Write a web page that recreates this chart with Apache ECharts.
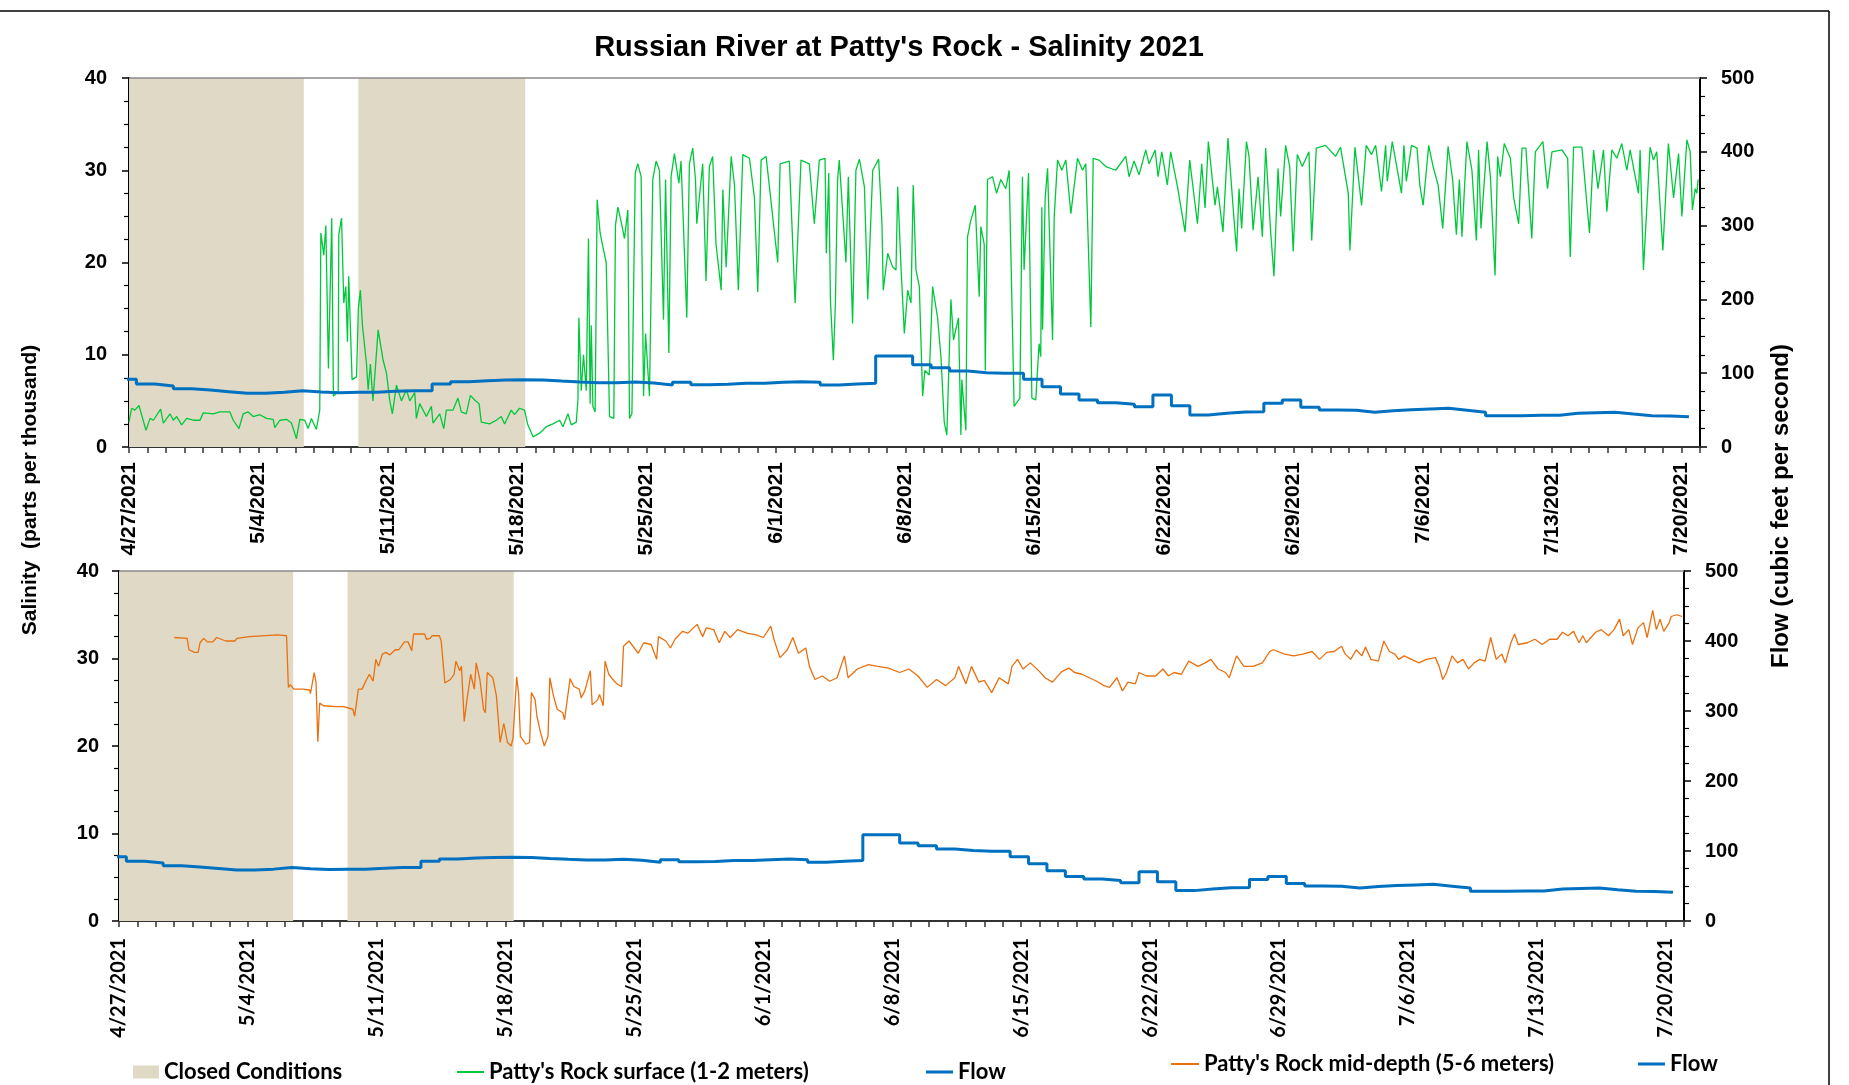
<!DOCTYPE html>
<html>
<head>
<meta charset="utf-8">
<script src="https://cdn.jsdelivr.net/npm/echarts/dist/echarts.min.js"></script>
<style>
  html, body { margin: 0; padding: 0; background: #fff; }
  #main { width: 1849px; height: 1085px; }
</style>
</head>
<body>
<div id="main"></div>
<script>
// x values are days after 4/27/2021 00:00
var xLabels = ['4/27/2021', '5/4/2021', '5/11/2021', '5/18/2021', '5/25/2021', '6/1/2021', '6/8/2021',
  '6/15/2021', '6/22/2021', '6/29/2021', '7/6/2021', '7/13/2021', '7/20/2021'];

// closed-mouth periods [start day, end day]
var closedPeriods = [[0, 9.46], [12.41, 21.44]];

// daily mean flow (cfs), one value per day, steps at ~10am
var flowStepAt = 0.4;
var flowDaily = [
  91.7, 85.4, 82.7, 79.0, 77.2, 75.0, 72.7, 72.7, 74.1, 76.3,
  74.5, 73.6, 74.1, 74.1, 75.4, 76.3, 76.3, 85.4, 88.5, 89.9,
  90.8, 91.2, 90.8, 89.4, 88.1, 87.2, 87.2, 88.1, 86.7, 84.0,
  87.6, 84.5, 84.9, 86.3, 86.3, 87.6, 88.5, 87.6, 84.0, 85.4,
  86.3, 123.3, 123.3, 111.6, 107.5, 103.0, 100.7, 99.8, 99.8, 91.7,
  81.8, 71.8, 63.7, 60.1, 57.8, 54.7, 70.5, 56.0, 43.4, 45.6,
  47.4, 47.9, 59.2, 63.7, 53.7, 50.1, 49.7, 47.0, 49.2, 50.6,
  51.5, 52.4, 49.7, 47.0, 42.5, 42.5, 42.9, 42.9, 45.6, 46.5,
  47.0, 44.7, 42.5, 42.0, 41.1
];

// surface salinity (ppt), [day, value]
var surface = [
  [0,2.7],[0.14,4.2],[0.32,4.0],[0.54,4.5],[0.92,1.8],[1.14,3.1],[1.32,2.9],[1.71,4.1],[1.86,2.6],[2.22,3.6],
  [2.4,2.9],[2.58,3.3],[2.85,2.4],[3.12,3.1],[3.48,2.9],[3.84,2.9],[4.02,3.7],[4.56,3.6],[4.92,3.8],[5.46,3.8],
  [5.64,2.9],[5.95,2.0],[6.18,3.6],[6.45,3.8],[6.72,3.3],[7.08,3.5],[7.44,3.1],[7.8,3.0],[7.89,2.1],[8.16,2.9],
  [8.52,3.0],[8.79,2.6],[9.06,0.9],[9.24,3.0],[9.51,2.9],[9.69,2.0],[9.87,3.1],[10.14,1.9],[10.32,4.0],[10.38,23.2],
  [10.54,20.8],[10.65,24.0],[10.79,8.5],[10.97,24.8],[11.06,5.5],[11.32,6.0],[11.35,23.0],[11.5,24.8],[11.62,15.6],[11.73,17.4],
  [11.82,11.4],[11.89,18.5],[12.07,7.3],[12.31,7.6],[12.41,15.0],[12.52,17.0],[12.63,13.2],[12.85,9.0],[12.94,6.2],[13.06,9.0],
  [13.2,5.0],[13.48,12.7],[13.75,9.4],[13.93,8.0],[14.11,5.0],[14.25,3.6],[14.47,6.7],[14.74,5.0],[15.01,6.2],[15.19,5.0],
  [15.46,5.9],[15.55,3.1],[15.73,4.7],[16.09,3.3],[16.36,4.4],[16.45,2.6],[16.81,3.6],[17.03,2.0],[17.17,4.0],[17.53,4.0],
  [17.8,5.3],[17.98,3.8],[18.25,3.6],[18.47,5.6],[18.7,5.1],[18.94,4.7],[19.06,2.7],[19.51,2.5],[19.87,2.9],[20.14,3.3],
  [20.32,2.5],[20.68,4.0],[20.86,3.5],[21.13,4.2],[21.4,4.0],[21.58,2.4],[21.86,1.1],[22.22,1.5],[22.58,2.2],[22.94,2.5],
  [23.3,2.9],[23.48,2.2],[23.75,3.6],[23.93,2.4],[24.2,2.7],[24.29,5.1],[24.34,14.0],[24.47,6.1],[24.59,10.0],[24.74,6.1],
  [24.86,22.6],[24.95,4.7],[25.01,13.2],[25.1,4.4],[25.22,3.8],[25.33,26.8],[25.49,23.2],[25.64,21.7],[25.82,20.0],[26.0,3.3],
  [26.23,3.1],[26.32,24.0],[26.45,26.0],[26.63,24.4],[26.81,22.6],[26.99,25.7],[27.08,3.1],[27.21,3.6],[27.39,29.7],[27.53,30.7],
  [27.71,29.3],[27.84,5.5],[27.95,12.3],[28.16,5.5],[28.34,29.0],[28.52,31.0],[28.7,30.0],[28.92,13.8],[29.03,29.0],[29.21,10.2],
  [29.33,29.3],[29.51,31.8],[29.75,28.6],[29.87,31.0],[30.18,14.0],[30.32,30.7],[30.5,32.4],[30.65,29.0],[30.72,24.2],[31.04,30.7],
  [31.22,18.0],[31.4,30.4],[31.58,31.5],[31.76,22.0],[32.04,17.0],[32.13,27.9],[32.31,19.5],[32.58,31.5],[32.76,28.4],[32.97,17.0],
  [33.21,31.7],[33.57,31.3],[33.84,27.0],[34.02,16.8],[34.2,31.1],[34.47,31.5],[35.1,20.0],[35.23,30.7],[35.73,31.0],[36.04,15.6],
  [36.36,31.1],[36.81,30.7],[37.08,24.2],[37.35,31.1],[37.66,31.3],[37.73,21.0],[37.86,29.7],[37.95,16.0],[38.11,9.4],[38.22,15.6],
  [38.34,29.0],[38.43,31.1],[38.79,20.0],[38.92,29.3],[39.15,13.4],[39.33,30.0],[39.52,31.2],[39.79,28.2],[39.97,16.0],[40.24,30.0],
  [40.56,31.2],[40.74,24.2],[40.81,17.0],[41.05,21.0],[41.32,19.5],[41.5,19.2],[41.59,28.2],[41.77,19.5],[41.95,12.3],[42.13,17.0],
  [42.31,15.6],[42.43,28.4],[42.58,19.2],[42.76,17.4],[42.94,5.5],[43.06,8.3],[43.3,7.8],[43.48,17.4],[43.75,14.0],[43.93,9.8],
  [44.11,2.7],[44.25,1.3],[44.47,16.0],[44.61,11.6],[44.88,14.0],[45.01,1.3],[45.06,7.3],[45.28,1.8],[45.37,22.8],[45.55,24.6],
  [45.79,26.2],[46.0,16.3],[46.09,23.9],[46.27,22.0],[46.33,8.3],[46.45,29.0],[46.72,29.3],[46.94,27.5],[47.17,29.0],[47.44,28.0],
  [47.62,30.0],[47.89,4.4],[48.2,5.3],[48.34,29.3],[48.43,19.2],[48.67,29.7],[48.85,5.3],[49.06,5.1],[49.24,11.2],[49.33,9.8],
  [49.39,26.0],[49.43,12.7],[49.57,27.0],[49.7,30.2],[49.97,11.6],[50.06,25.0],[50.24,31.1],[50.47,30.0],[50.69,31.1],[50.96,25.3],
  [51.32,31.3],[51.59,30.0],[51.77,30.7],[52.04,13.0],[52.17,31.3],[52.49,31.1],[52.85,30.4],[53.39,30.0],[53.93,31.5],[54.11,29.3],
  [54.38,31.0],[54.65,29.5],[55.01,32.2],[55.19,30.7],[55.52,32.2],[55.68,29.3],[55.88,32.0],[56.18,28.4],[56.36,32.0],[56.73,28.2],
  [57.14,23.3],[57.39,31.1],[57.81,24.2],[58.04,30.7],[58.22,25.9],[58.4,33.1],[58.76,26.2],[58.89,28.2],[59.19,23.3],[59.46,33.5],
  [59.79,24.6],[59.93,21.2],[60.06,28.0],[60.2,23.7],[60.46,33.1],[60.6,31.5],[60.82,23.5],[61.09,29.3],[61.32,22.8],[61.5,32.4],
  [61.77,23.3],[61.95,18.5],[62.17,30.2],[62.31,25.0],[62.58,32.7],[62.8,30.4],[62.99,21.2],[63.21,31.7],[63.48,30.4],[63.84,32.0],
  [63.99,22.4],[64.24,32.4],[64.74,32.7],[65.28,31.5],[65.55,32.5],[65.97,27.5],[66.06,21.3],[66.33,32.5],[66.69,26.2],[66.94,32.7],
  [67.23,31.7],[67.45,32.7],[67.77,27.7],[67.99,32.7],[68.08,28.8],[68.35,33.1],[68.85,27.5],[68.98,32.7],[69.11,28.8],[69.39,32.7],
  [69.69,32.4],[69.84,28.4],[70.02,26.2],[70.32,32.7],[70.56,30.4],[70.83,28.4],[71.08,23.7],[71.37,32.6],[71.62,28.9],[71.82,23.0],
  [71.98,29.0],[72.12,22.8],[72.39,33.1],[72.66,30.0],[72.9,22.4],[73.02,32.2],[73.15,23.7],[73.48,33.1],[73.66,29.3],[73.91,18.6],
  [74.05,31.5],[74.2,29.3],[74.41,32.9],[74.74,31.3],[74.92,27.0],[75.19,24.2],[75.37,32.4],[75.58,32.4],[75.9,22.6],[76.09,32.0],
  [76.5,33.1],[76.75,28.0],[76.99,32.0],[77.53,32.2],[77.84,31.3],[77.98,20.6],[78.16,32.5],[78.61,32.5],[79.02,23.2],[79.24,32.2],
  [79.48,28.0],[79.78,32.2],[79.96,25.5],[80.23,32.2],[80.5,31.3],[80.77,32.9],[81.04,30.0],[81.22,32.2],[81.67,27.5],[81.76,32.2],
  [81.94,19.2],[82.3,32.5],[82.48,31.1],[82.66,32.0],[82.99,21.3],[83.29,32.9],[83.57,27.0],[83.84,31.8],[84.02,25.0],[84.29,33.3],
  [84.47,32.0],[84.59,25.7],[84.74,28.0],[84.83,27.5],[84.9,29.0]
];

// mid-depth salinity (ppt), [day, value]
var midDepth = [
  [3.0,32.4],[3.7,32.3],[3.8,31.0],[4.1,30.7],[4.3,30.7],[4.4,31.8],[4.6,32.3],[4.8,31.9],[5.1,31.9],[5.3,32.4],
  [5.8,32.0],[6.3,32.0],[6.4,32.3],[7.1,32.5],[8.6,32.7],[9.1,32.6],[9.2,26.7],[9.3,27.0],[9.5,26.5],[10.0,26.5],
  [10.35,26.4],[10.4,26.0],[10.6,28.4],[10.7,27.3],[10.8,20.5],[10.9,24.9],[11.1,24.6],[11.8,24.5],[12.2,24.5],[12.7,24.2],
  [12.8,23.4],[13.0,26.5],[13.2,26.5],[13.4,27.4],[13.6,28.2],[13.8,27.4],[13.95,29.9],[14.1,29.1],[14.3,30.5],[14.5,30.7],
  [14.7,30.4],[15.0,31.0],[15.2,31.0],[15.5,31.9],[15.7,31.9],[15.9,30.9],[16.0,32.8],[16.6,32.8],[16.7,32.2],[16.9,32.3],
  [17.0,32.6],[17.4,32.6],[17.5,32.0],[17.7,27.2],[18.0,27.6],[18.2,28.2],[18.3,29.7],[18.5,28.6],[18.6,29.1],[18.75,22.8],
  [18.9,25.3],[19.1,28.2],[19.3,26.5],[19.4,29.5],[19.6,27.6],[19.8,24.2],[19.9,23.8],[20.0,28.4],[20.3,27.8],[20.4,26.8],
  [20.5,25.7],[20.7,20.4],[20.9,22.6],[21.1,20.4],[21.3,20.0],[21.4,20.9],[21.6,27.9],[21.7,26.1],[21.8,21.1],[22.1,20.2],
  [22.3,20.4],[22.4,26.1],[22.6,25.3],[22.7,23.4],[22.9,21.5],[23.1,20.0],[23.3,21.1],[23.4,27.8],[23.6,25.7],[23.8,24.2],
  [24.1,23.8],[24.2,23.0],[24.5,27.7],[24.7,26.8],[25.0,26.5],[25.1,25.5],[25.3,26.3],[25.6,28.6],[25.7,24.7],[26.0,25.3],
  [26.1,25.9],[26.3,24.6],[26.4,29.7],[26.6,28.2],[26.9,27.4],[27.1,27.0],[27.3,26.8],[27.4,31.4],[27.7,32.0],[28.2,30.6],
  [28.5,31.8],[28.9,31.6],[29.2,29.9],[29.3,32.5],[29.7,32.0],[29.95,31.2],[30.2,32.2],[30.6,33.1],[30.9,32.9],[31.4,33.9],
  [31.7,32.5],[31.9,33.5],[32.3,33.3],[32.6,31.8],[32.9,33.1],[33.2,32.4],[33.6,33.3],[34.1,32.9],[34.6,32.7],[35.0,32.4],
  [35.4,33.7],[35.6,32.0],[35.9,30.1],[36.3,31.0],[36.6,32.4],[36.9,30.6],[37.3,31.2],[37.5,29.1],[37.8,27.6],[38.2,28.0],
  [38.6,27.4],[39.0,27.8],[39.4,30.3],[39.6,27.8],[40.1,28.8],[40.7,29.3],[41.2,29.1],[41.8,28.9],[42.4,28.4],[42.9,28.8],
  [43.4,28.0],[43.9,26.7],[44.4,27.6],[44.9,26.9],[45.4,27.8],[45.6,29.1],[46.0,27.1],[46.3,29.1],[46.7,27.3],[47.0,27.5],
  [47.4,26.1],[47.8,27.8],[48.3,27.1],[48.5,29.1],[48.8,29.9],[49.1,28.8],[49.5,29.5],[50.0,28.5],[50.3,27.8],[50.7,27.3],
  [51.2,28.5],[51.6,28.9],[51.9,28.4],[52.3,28.2],[52.7,27.8],[53.1,27.4],[53.5,26.9],[53.8,26.7],[54.2,27.8],[54.5,26.3],
  [54.8,27.3],[55.2,27.1],[55.4,28.4],[55.8,28.0],[56.3,28.0],[56.7,28.8],[57.0,28.0],[57.3,28.4],[57.7,28.2],[58.1,29.7],
  [58.6,29.1],[59.0,29.5],[59.3,29.9],[59.7,28.8],[60.1,28.4],[60.3,27.8],[60.7,30.3],[61.1,29.1],[61.6,29.1],[62.1,29.5],
  [62.5,30.8],[62.7,31.0],[63.3,30.5],[63.8,30.3],[64.3,30.5],[64.8,30.8],[65.2,29.9],[65.6,30.7],[66.0,30.8],[66.4,31.4],
  [66.6,30.5],[66.9,29.9],[67.2,31.0],[67.5,30.3],[67.7,31.3],[68.0,29.9],[68.4,29.7],[68.7,32.0],[69.0,30.8],[69.3,30.5],
  [69.5,29.9],[69.8,30.3],[70.2,29.9],[70.6,29.5],[71.0,29.9],[71.5,30.1],[71.7,29.1],[71.9,27.6],[72.1,28.4],[72.4,30.3],
  [72.7,29.5],[73.0,29.9],[73.3,28.8],[73.6,29.5],[73.9,29.9],[74.2,29.7],[74.5,32.4],[74.8,29.9],[75.1,30.5],[75.3,29.5],
  [75.6,31.8],[75.8,32.8],[76.0,31.6],[76.5,31.8],[76.9,32.2],[77.3,31.6],[77.7,32.2],[78.1,32.2],[78.4,33.0],[78.7,32.6],
  [79.0,33.1],[79.3,31.8],[79.5,32.6],[79.7,31.8],[80.2,33.0],[80.5,33.3],[80.9,32.6],[81.2,33.3],[81.5,34.5],[81.7,32.6],
  [82.0,33.3],[82.2,31.6],[82.5,33.5],[82.8,34.1],[83.0,32.4],[83.3,35.5],[83.5,33.3],[83.7,34.5],[83.9,33.1],[84.2,34.1],
  [84.3,34.8],[84.6,35.0],[84.9,34.8]
];

var flowPoints = flowDaily.map(function (v, k) { return [k - 1 + flowStepAt, v]; });
flowPoints.push([flowDaily.length - 1 + flowStepAt, flowDaily[flowDaily.length - 1]]);

var closedColor = '#E0D9C5';
var greenColor = '#00C83C';
var blueColor = '#0070C0';
var orangeColor = '#E9700F';
var armo = 'Liberation Sans, Arial, sans-serif';
var cali = 'Lato, Carlito, sans-serif';

function xAxisFor(gridIndex, font, size, margin) {
  return {
    type: 'value', gridIndex: gridIndex, min: 0, max: 85, interval: 1,
    axisLine: { lineStyle: { color: '#333', width: 2 } },
    axisTick: { inside: false, length: 6, lineStyle: { color: '#333', width: 1.5 } },
    splitLine: { show: false },
    axisLabel: {
      rotate: 90, margin: margin, color: '#000', fontWeight: 'bold', fontSize: size, fontFamily: font,
      formatter: function (v) { return (v % 7 === 0 && xLabels[v / 7]) ? xLabels[v / 7] : ''; }
    }
  };
}

function yAxisFor(gridIndex, pos, max, interval, margin) {
  return {
    type: 'value', gridIndex: gridIndex, position: pos, min: 0, max: max, interval: interval,
    axisLine: { show: true, lineStyle: { color: '#000', width: 2 } },
    axisTick: { show: true, inside: false, length: 7, lineStyle: { color: '#000', width: 1.5 } },
    minorTick: { show: true, splitNumber: 4, length: 5, lineStyle: { color: '#000', width: 1.2 } },
    splitLine: { show: false },
    axisLabel: { margin: margin, color: '#000', fontWeight: 'bold', fontSize: 20, fontFamily: armo }
  };
}

function closedSeries(xi, yi) {
  return {
    name: 'Closed Conditions', type: 'line', xAxisIndex: xi, yAxisIndex: yi, data: [],
    itemStyle: { color: closedColor }, lineStyle: { color: closedColor },
    markArea: {
      silent: true, itemStyle: { color: closedColor },
      data: closedPeriods.map(function (p) { return [{ xAxis: p[0] }, { xAxis: p[1] }]; })
    },
    markLine: {
      silent: true, symbol: 'none', label: { show: false },
      lineStyle: { color: '#8a8a8a', width: 1.5, type: 'solid' },
      data: [{ yAxis: 40 }]
    }
  };
}

function legendFor(name, left, top, w, h) {
  return {
    data: [{ name: name, icon: 'rect' }], left: left, top: top, padding: 0,
    itemWidth: w, itemHeight: h, selectedMode: false,
    textStyle: { color: '#000', fontWeight: 'bold', fontSize: 22, fontFamily: cali }
  };
}

var chart = echarts.init(document.getElementById('main'));
chart.setOption({
  animation: false,
  backgroundColor: '#fff',
  grid: [
    { left: 129, right: 149, top: 78, height: 369 },
    { left: 119, right: 165, top: 571, height: 350 }
  ],
  xAxis: [xAxisFor(0, armo, 21, 15), xAxisFor(1, cali, 20, 17)],
  yAxis: [
    yAxisFor(0, 'left', 40, 10, 22),
    yAxisFor(0, 'right', 500, 100, 21),
    yAxisFor(1, 'left', 40, 10, 20),
    yAxisFor(1, 'right', 500, 100, 21)
  ],
  legend: [
    legendFor('Closed Conditions', 133, 1061, 26, 13),
    legendFor("Patty's Rock surface (1-2 meters)", 457, 1061, 27, 2),
    legendFor('Flow', 926, 1061, 27, 3),
    legendFor("Patty's Rock mid-depth (5-6 meters)", 1171, 1053, 28, 2),
    legendFor('Flow', 1638, 1053, 27, 3)
  ],
  series: [
    closedSeries(0, 0),
    {
      name: "Patty's Rock surface (1-2 meters)", type: 'line', xAxisIndex: 0, yAxisIndex: 0,
      data: surface, showSymbol: false, symbol: 'none',
      itemStyle: { color: greenColor }, lineStyle: { color: greenColor, width: 1.3 }
    },
    {
      name: 'Flow', type: 'line', xAxisIndex: 0, yAxisIndex: 1, step: 'end',
      data: flowPoints, showSymbol: false, symbol: 'none',
      itemStyle: { color: blueColor }, lineStyle: { color: blueColor, width: 3 }
    },
    closedSeries(1, 2),
    {
      name: "Patty's Rock mid-depth (5-6 meters)", type: 'line', xAxisIndex: 1, yAxisIndex: 2,
      data: midDepth, showSymbol: false, symbol: 'none',
      itemStyle: { color: orangeColor }, lineStyle: { color: orangeColor, width: 1.3 }
    },
    {
      name: 'Flow', type: 'line', xAxisIndex: 1, yAxisIndex: 3, step: 'end',
      data: flowPoints, showSymbol: false, symbol: 'none',
      itemStyle: { color: blueColor }, lineStyle: { color: blueColor, width: 3 }
    }
  ],
  graphic: [
    { type: 'line', silent: true, shape: { x1: 0, y1: 11, x2: 1829, y2: 11 }, style: { stroke: '#000', lineWidth: 1.5 } },
    { type: 'line', silent: true, shape: { x1: 1829, y1: 11, x2: 1829, y2: 1085 }, style: { stroke: '#000', lineWidth: 1.5 } },
    {
      type: 'text', x: 899, y: 48, silent: true,
      style: { text: "Russian River at Patty's Rock - Salinity 2021", fill: '#000', fontSize: 29, fontWeight: 'bold',
        fontFamily: armo, align: 'center', verticalAlign: 'middle' }
    },
    {
      type: 'text', x: 30, y: 490, rotation: Math.PI / 2, silent: true,
      style: { text: 'Salinity  (parts per thousand)', fill: '#000', fontSize: 21, fontWeight: 'bold',
        fontFamily: armo, align: 'center', verticalAlign: 'middle' }
    },
    {
      type: 'text', x: 1781, y: 506, rotation: Math.PI / 2, silent: true,
      style: { text: 'Flow (cubic feet per second)', fill: '#000', fontSize: 24, fontWeight: 'bold',
        fontFamily: armo, align: 'center', verticalAlign: 'middle' }
    }
  ]
});
</script>
</body>
</html>
